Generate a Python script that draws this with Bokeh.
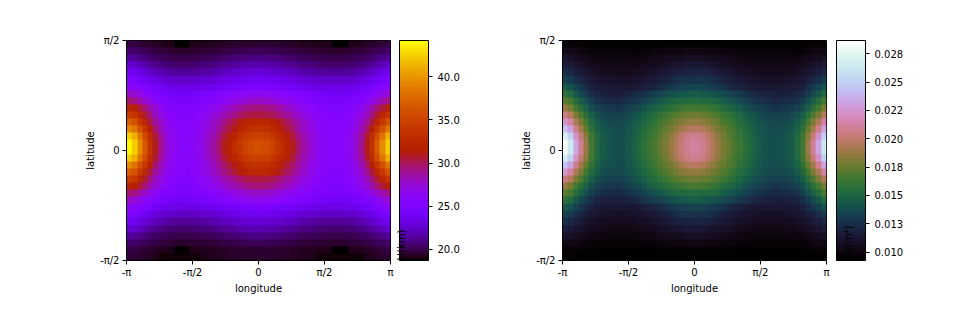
import math
import numpy as np
from bokeh.embed import file_html
from bokeh.layouts import row
from bokeh.models import ColorBar, FixedTicker, LinearColorMapper
from bokeh.plotting import figure
from bokeh.resources import INLINE

# Half tables: rows pole -> equator, columns edge -> centre.
H_KM = [
 [19.8,19.8,19.6,19.5,19.4,19.3,19.2,19.1,19.1,18.7,18.7, 18.7,19,19.1,19.1,19.2,19.2,19.2,19.3,19.3,19.4,19.4,19.4,19.5,19.5,19.5],
 [20.5,20.4,20.2,20.1,20,19.8,19.7,19.6,19.5,19.4,19.4, 19.4,19.4,19.5,19.5,19.5,19.6,19.6,19.7,19.8,19.8,19.9,20,20,20.1,20.1],
 [21.4,21.3,21,20.8,20.5,20.3,20.2,20.1,20,19.9,19.9, 19.9,19.9,20,20,20.1,20.1,20.2,20.3,20.4,20.5,20.6,20.7,20.8,20.9,20.9],
 [22.6,22.4,22.1,21.7,21.4,21.1,20.9,20.7,20.6,20.5,20.5, 20.5,20.5,20.5,20.6,20.7,20.8,20.9,21,21.2,21.3,21.4,21.6,21.7,21.8,21.8],
 [23.8,23.6,23.2,22.8,22.4,22,21.8,21.6,21.4,21.3,21.3, 21.3,21.3,21.3,21.4,21.5,21.6,21.7,21.9,22.1,22.2,22.4,22.5,22.6,22.7,22.8],
 [25,24.8,24.3,23.9,23.5,23.1,22.8,22.6,22.4,22.4,22.3, 22.3,22.3,22.3,22.4,22.5,22.6,22.7,22.9,23.1,23.2,23.4,23.5,23.6,23.7,23.8],
 [26.3,26,25.5,25,24.5,24.1,23.8,23.5,23.4,23.3,23.2, 23.2,23.2,23.3,23.3,23.4,23.5,23.7,23.8,24,24.2,24.3,24.5,24.6,24.7,24.8],
 [27.8,27.5,26.9,26.2,25.6,25.1,24.7,24.4,24.2,24.1,24, 24,24.1,24.2,24.3,24.5,24.7,24.9,25.1,25.4,25.6,25.9,26.1,26.3,26.4,26.5],
 [29.6,29.2,28.4,27.6,26.9,26.1,25.5,25.1,24.9,24.7,24.6, 24.6,24.7,24.8,24.9,25.1,25.4,25.7,26,26.3,26.6,26.9,27.2,27.5,27.7,27.8],
 [32,31.5,30.5,29.5,28.4,27.4,26.6,26,25.5,25.2,25, 25,25.1,25.3,25.5,25.8,26.1,26.5,26.9,27.4,27.9,28.3,28.7,29.1,29.3,29.4],
 [34.5,33.8,32.2,30.7,29.3,28,27,26.2,25.8,25.5,25.3, 25.3,25.4,25.5,25.8,26.2,26.6,27.1,27.6,28.2,28.7,29.2,29.7,30.1,30.3,30.4],
 [37,36.1,34.1,32.3,30.4,28.8,27.6,26.7,26.1,25.7,25.5, 25.5,25.6,25.8,26.1,26.6,27.1,27.7,28.4,29.1,29.9,30.6,31.3,31.9,32.3,32.4],
 [39.5,38.4,36,33.8,31.6,29.6,28.1,27,26.3,25.9,25.6, 25.6,25.7,25.8,26.1,26.6,27.2,27.9,28.7,29.7,30.5,31.2,32,32.7,33.2,33.4],
 [42.5,41.2,38.3,35.6,32.9,30.6,28.7,27.4,26.5,26,25.7, 25.7,25.8,26,26.3,26.9,27.6,28.3,29.3,30.4,31.3,32.2,33.2,34,34.5,34.8],
 [44,42.5,39.5,36.5,33.5,31,29,27.5,26.6,26.1,25.7, 25.7,25.8,26,26.4,27,27.8,28.6,29.7,31,32,33,34,34.9,35.5,35.8],
]
H_LAST_ROW = [19.6,19.5,19.4,19.3,19.2,19.1,18.8,18.8,18.8,18.8,18.8,18.8,18.8,18.8,18.8,19,19.1,19.1,19.2,19.2,19.3,19.3,19.3,19.4,19.4,19.4]

# Units of 1e-4 W/m2
QB_E4 = [
 [97,97,96,96,95,95,94,94,94,94,94, 94,94,94,94,94,94,94,94,95,95,95,95,95,95,95],
 [103,102,101,100,98,97,97,96,96,96,96, 96,96,96,96,97,97,97,98,98,99,100,100,100,101,101],
 [110,109,106,104,103,101,100,100,99,99,99, 99,99,99,99,100,100,101,102,103,104,105,106,106,107,107],
 [117,115,112,109,107,105,104,103,102,102,102, 102,102,102,102,103,104,105,106,107,108,110,111,112,113,113],
 [125,122,118,115,112,109,107,106,105,105,105, 105,105,105,106,107,107,109,110,112,114,116,118,119,120,120],
 [134,131,125,121,118,114,112,110,110,109,109, 109,109,109,110,111,112,114,115,117,119,122,124,126,126,127],
 [145,141,134,129,124,119,116,115,114,113,113, 113,113,113,114,115,117,119,120,123,126,129,131,133,134,135],
 [158,153,144,137,131,125,121,119,118,117,117, 118,119,120,122,124,127,129,132,134,137,139,141,143,144,145],
 [172,166,155,147,139,132,127,125,123,123,122, 123,124,126,128,131,134,137,140,143,146,149,151,152,153,154],
 [187,179,166,157,148,139,134,131,129,129,128, 129,130,132,135,137,141,145,148,151,154,158,161,163,165,166],
 [205,196,180,168,157,147,140,137,134,134,133, 134,135,137,140,143,147,151,155,159,163,167,170,173,175,176],
 [225,213,194,180,166,153,145,140,138,137,136, 137,138,140,144,147,151,155,160,165,169,174,178,182,185,186],
 [245,231,208,190,174,158,149,143,140,139,138, 138,140,142,146,150,154,159,164,169,174,179,185,190,195,197],
 [268,251,223,202,183,164,152,145,142,140,139, 139,141,143,147,152,156,161,166,172,178,185,192,199,205,208],
 [283,264,232,209,188,166,153,146,142,140,139, 139,141,144,148,153,158,163,168,174,180,187,194,202,208,212],
]
QB_LAST_ROW = [95,95,94,94,94,94,94,94,94,94,94,94,94,94,94,94,94,94,94,94,94,94,94,94,94,94]

H_TICKS = [20.0, 25.0, 30.0, 35.0, 40.0]
H_LABELS = ["20.0", "25.0", "30.0", "35.0", "40.0"]
QB_TICKS = [0.010, 0.0125, 0.015, 0.0175, 0.020, 0.0225, 0.025, 0.0275]
QB_LABELS = ["0.010", "0.013", "0.015", "0.018", "0.020", "0.022", "0.025", "0.028"]
X_TICKS = [-math.pi, -math.pi / 2, 0.0, math.pi / 2, math.pi]
X_LABELS = ["-π", "-π/2", "0", "π/2", "π"]
Y_TICKS = [-math.pi / 2, 0.0, math.pi / 2]
Y_LABELS = ["-π/2", "0", "π/2"]
FONT = "DejaVu Sans"


def expand(half, last):
    rows = np.array(half, dtype=float)
    rows = np.vstack([rows, rows[::-1], np.array(last, dtype=float)])
    return np.hstack([rows[:, :12], rows[:, 13:26], rows[:, 25:0:-1]])


def to_hex(rgb):
    r, g, b = [int(round(255 * min(1, max(0, c)))) for c in rgb]
    return f"#{r:02x}{g:02x}{b:02x}"


def gnuplot_palette():
    out = []
    for i in range(256):
        x = i / 255
        out.append(to_hex((x ** 0.5, x ** 3, max(0.0, math.sin(2 * math.pi * x)))))
    return out


def cubehelix_palette():
    out = []
    for i in range(256):
        x = i / 255
        a = x * (1 - x) / 2
        phi = 2 * math.pi * (0.5 / 3 - 1.5 * x)
        c, s = math.cos(phi), math.sin(phi)
        out.append(to_hex((x + a * (-0.14861 * c + 1.78277 * s),
                           x + a * (-0.29227 * c - 0.90649 * s),
                           x + a * (1.97294 * c))))
    return out


def panel(z, palette, low, high, ticks, labels, width, left, bar_x):
    p = figure(width=width, height=308, x_range=(-math.pi, math.pi), y_range=(-math.pi / 2, math.pi / 2),
               toolbar_location=None, output_backend="svg", min_border_left=left, min_border_right=width - left - 264,
               min_border_top=40, min_border_bottom=48, tools="")
    mapper = LinearColorMapper(palette=palette, low=low, high=high)
    p.image(image=[z[::-1]], x=-math.pi, y=-math.pi / 2, dw=2 * math.pi, dh=math.pi, color_mapper=mapper)
    p.grid.visible = False
    p.outline_line_color = "#000000"
    p.outline_line_width = 1
    p.xaxis.axis_label = "longitude"
    p.yaxis.axis_label = "latitude"
    p.xaxis.ticker = FixedTicker(ticks=X_TICKS)
    p.yaxis.ticker = FixedTicker(ticks=Y_TICKS)
    p.xaxis.major_label_overrides = dict(zip(X_TICKS, X_LABELS))
    p.yaxis.major_label_overrides = dict(zip(Y_TICKS, Y_LABELS))
    for ax in (p.xaxis[0], p.yaxis[0]):
        ax.major_tick_in = 0
        ax.major_tick_out = 4
        ax.minor_tick_line_color = None
        ax.major_label_text_font = FONT
        ax.major_label_text_font_size = "10px"
        ax.major_label_text_color = "#000000"
        ax.axis_label_text_font = FONT
        ax.axis_label_text_font_size = "10px"
        ax.axis_label_text_font_style = "normal"
        ax.axis_label_text_color = "#000000"
        ax.axis_line_color = "#000000"
    p.xaxis[0].major_label_standoff = 2
    p.xaxis[0].axis_label_standoff = 2
    p.yaxis[0].major_label_standoff = 3
    p.yaxis[0].axis_label_standoff = 1
    p.yaxis[0].major_label_orientation = "horizontal"
    cb = ColorBar(color_mapper=mapper, width=29, height=220, padding=0, margin=0,
                  location=(bar_x, 0), ticker=FixedTicker(ticks=ticks),
                  major_label_overrides=dict(zip(ticks, labels)),
                  major_tick_in=0, major_tick_out=4, major_tick_line_color="#000000",
                  minor_tick_line_color=None, bar_line_color="#000000", bar_line_width=1,
                  major_label_text_font=FONT, major_label_text_font_size="10px",
                  major_label_text_color="#000000", label_standoff=5,
                  background_fill_color=None, border_line_color=None)
    p.add_layout(cb)
    return p


def title_piece(p, x, standoff, text, size="10px", style="normal"):
    # Annotations in the frame are clipped to it, but a colour bar's title is not: a bar that
    # draws nothing itself carries each part of the colour-bar title above the frame's top.
    blank = LinearColorMapper(palette=["#ffffff", "#ffffff"], low=0, high=1)
    p.add_layout(ColorBar(color_mapper=blank, width=20, height=220, padding=0, margin=0, location=(x, 0),
                          ticker=FixedTicker(ticks=[]), scale_alpha=0, bar_line_color=None,
                          major_tick_line_color=None, minor_tick_line_color=None,
                          background_fill_color=None, border_line_color=None,
                          title=text, title_standoff=standoff, title_text_font=FONT,
                          title_text_font_size=size, title_text_font_style=style,
                          title_text_color="#000000"))


left = panel(expand(H_KM, H_LAST_ROW), gnuplot_palette(), 18.7, 44.2, H_TICKS, H_LABELS, 468, 126, 273)
title_piece(left, 264, 6, "H(km)")

right = panel(expand(QB_E4, QB_LAST_ROW) * 1e-4, cubehelix_palette(), 0.00925, 0.02868, QB_TICKS, QB_LABELS, 496, 94, 274)
title_piece(right, 265, 7, "q", style="italic")
title_piece(right, 271, 6, "b", size="7px", style="italic")
title_piece(right, 275, 7, "(W/m²)")

layout = row(left, right)
open("out.html", "w").write(file_html(layout, INLINE))
